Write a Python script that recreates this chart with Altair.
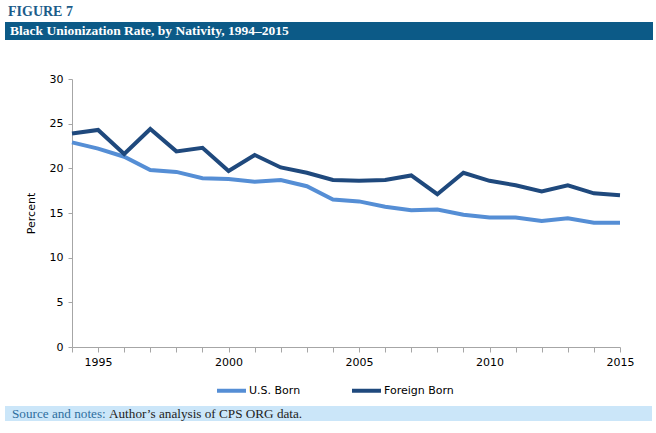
import altair as alt
import pandas as pd

years = list(range(1994, 2016))
us_born = [22.9, 22.2, 21.3, 19.8, 19.6, 18.9, 18.8, 18.5, 18.7, 18.0, 16.5, 16.3,
           15.7, 15.3, 15.4, 14.8, 14.5, 14.5, 14.1, 14.4, 13.9, 13.9]
foreign_born = [23.9, 24.3, 21.6, 24.4, 21.9, 22.3, 19.7, 21.5, 20.1, 19.5, 18.7, 18.6,
                18.7, 19.2, 17.1, 19.5, 18.6, 18.1, 17.4, 18.1, 17.2, 17.0]
series_names = ["U.S. Born", "Foreign Born"]
series_colors = ["#558ED5", "#1F497D"]

fig_label = "FIGURE 7"
header_text = "Black Unionization Rate, by Nativity, 1994\u20132015"
source_label = "Source and notes:"
source_text = "Author\u2019s analysis of CPS ORG data."

rows = []
for y, v in zip(years, us_born):
    rows.append({"year": y, "value": v, "series": series_names[0]})
for y, v in zip(years, foreign_born):
    rows.append({"year": y, "value": v, "series": series_names[1]})
df = pd.DataFrame(rows)

W, H = 548, 268
one = pd.DataFrame({"a": [0]})

lines = alt.Chart(df).mark_line(strokeWidth=4, strokeJoin="miter").encode(
    x=alt.X("year:Q", scale=alt.Scale(domain=[1994, 2015], nice=False, zero=False),
            axis=alt.Axis(values=years, format="d", title=None, grid=False,
                          labelExpr="datum.value % 5 == 0 ? datum.label : ''",
                          tickSize=5, labelPadding=4, domainColor="#A6A6A6",
                          tickColor="#A6A6A6", labelFont="DejaVu Sans", labelFontSize=11,
                          labelColor="#000000", labelFlush=False)),
    y=alt.Y("value:Q", scale=alt.Scale(domain=[0, 30], nice=False),
            axis=alt.Axis(values=[0, 5, 10, 15, 20, 25, 30], title="Percent", grid=False,
                          tickSize=4, labelPadding=5, domainColor="#A6A6A6",
                          tickColor="#A6A6A6", labelFont="DejaVu Sans", labelFontSize=11,
                          labelColor="#000000", titleFont="DejaVu Sans", titleFontSize=11,
                          titleFontWeight="normal", titleColor="#000000", titlePadding=13)),
    color=alt.Color("series:N", scale=alt.Scale(domain=series_names, range=series_colors),
                    sort=series_names,
                    legend=alt.Legend(title=None, orient="none", direction="horizontal",
                                      legendX=143, legendY=295, symbolType="stroke",
                                      symbolSize=841, symbolStrokeWidth=4, labelOffset=1,
                                      columnPadding=43, labelFont="DejaVu Sans",
                                      labelFontSize=11, labelColor="#000000")),
    order=alt.Order("year:Q"),
)

header_bg = alt.Chart(one).mark_rect(color="#0C5A87").encode(
    x=alt.value(-67), x2=alt.value(581), y=alt.value(-57), y2=alt.value(-39))
fig_txt = alt.Chart(one).mark_text(text=fig_label, font="Liberation Serif", fontSize=14,
                                   fontWeight="bold", color="#1B5C8A", align="left",
                                   baseline="middle").encode(
    x=alt.value(-64), y=alt.value(-67))
header_txt = alt.Chart(one).mark_text(text=header_text, font="Liberation Serif", fontSize=13.5,
                                      fontWeight="bold", color="#FFFFFF", align="left",
                                      baseline="middle").encode(
    x=alt.value(-62), y=alt.value(-48))
source_bg = alt.Chart(one).mark_rect(color="#CBE6F9").encode(
    x=alt.value(-67), x2=alt.value(580), y=alt.value(327), y2=alt.value(342))
src_lbl = alt.Chart(one).mark_text(text=source_label, font="Liberation Serif", fontSize=13.2,
                                   color="#2E6E9E", align="left", baseline="middle").encode(
    x=alt.value(-60), y=alt.value(334.5))
src_txt = alt.Chart(one).mark_text(text=source_text, font="Liberation Serif", fontSize=13.2,
                                   color="#222222", align="left", baseline="middle").encode(
    x=alt.value(37), y=alt.value(334.5))

chart = alt.layer(header_bg, fig_txt, header_txt, source_bg, src_lbl, src_txt, lines).properties(
    width=W, height=H,
    autosize=alt.AutoSizeParams(type="none"),
    padding={"left": 72, "top": 79, "right": 36, "bottom": 86},
    background="#FFFFFF",
).configure_view(stroke=None)

chart.save("out.html", embed_options={"renderer": "svg", "actions": False})
